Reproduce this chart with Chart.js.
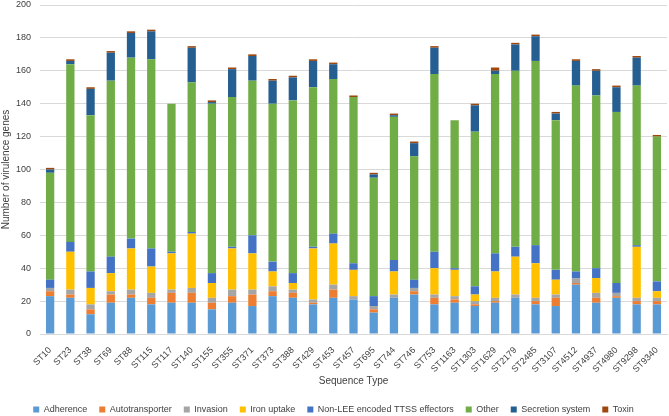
<!DOCTYPE html>
<html>
<head>
<meta charset="utf-8">
<script src="https://cdn.jsdelivr.net/npm/chart.js@4/dist/chart.umd.min.js"></script>
<style>
  html, body { margin: 0; padding: 0; background: #fff; }
  #wrap { width: 669px; height: 416px; }
</style>
</head>
<body>
<div id="wrap"><canvas id="virulence-chart"></canvas></div>
<script>
// Sequence types along the x axis
const sequenceTypes = ['ST10', 'ST23', 'ST38', 'ST69', 'ST88', 'ST115', 'ST117', 'ST140', 'ST155', 'ST355',
    'ST371', 'ST373', 'ST388', 'ST429', 'ST453', 'ST457', 'ST695', 'ST744', 'ST746', 'ST753',
    'ST1163', 'ST1303', 'ST1629', 'ST2179', 'ST2485', 'ST3107', 'ST4512', 'ST4937', 'ST4980', 'ST9298', 'ST9340'];

// Gene counts per category
const adherence       = [23, 22, 12, 19, 22, 18, 19, 19, 15, 19, 17, 23, 22, 18, 22, 21, 13, 22, 24, 18, 19, 17, 19, 22, 18, 17, 30, 19, 22, 18, 18];
const autotransporter = [3, 2, 3, 5, 2, 4, 6, 6, 4, 4, 7, 3, 3, 1, 5, 0, 2, 0, 2, 4, 2, 1, 1, 0, 2, 5, 1, 3, 1, 2, 2];
const invasion        = [2, 3, 3, 2, 3, 3, 2, 3, 3, 4, 3, 3, 2, 2, 3, 2, 2, 2, 2, 2, 2, 2, 2, 2, 2, 2, 3, 3, 2, 2, 2];
const ironUptake      = [0, 23, 10, 11, 25, 16, 22, 33, 9, 25, 22, 9, 4, 31, 25, 16, 0, 14, 0, 16, 16, 4, 16, 23, 21, 9, 0, 9, 0, 31, 4];
const nonLeeTtss      = [5, 6, 10, 10, 6, 11, 1, 1, 6, 1, 11, 6, 6, 1, 6, 4, 6, 7, 5, 10, 1, 5, 11, 6, 11, 6, 4, 6, 6, 1, 6];
const other           = [65, 108, 95, 107, 110, 115, 90, 91, 103, 91, 94, 96, 105, 97, 94, 101, 72, 87, 75, 108, 90, 94, 109, 107, 112, 91, 113, 105, 104, 97, 88];
const secretion       = [2, 2, 16, 17, 15, 17, 0, 21, 1, 17, 15, 14, 14, 16, 9, 0, 2, 1, 8, 16, 0, 16, 2, 16, 15, 4, 15, 15, 15, 17, 0];
const toxin           = [1, 1, 1, 1, 1, 1, 0, 1, 1, 1, 1, 1, 1, 1, 1, 1, 1, 1, 1, 1, 0, 1, 2, 1, 1, 1, 1, 1, 1, 1, 1];

const yTicks = [0, 20, 40, 60, 80, 100, 120, 140, 160, 180, 200];

const series = [
    ['Adherence', adherence, '#5B9BD5'],
    ['Autotransporter', autotransporter, '#ED7D31'],
    ['Invasion', invasion, '#A5A5A5'],
    ['Iron uptake', ironUptake, '#FFC000'],
    ['Non-LEE encoded TTSS effectors', nonLeeTtss, '#4472C4'],
    ['Other', other, '#70AD47'],
    ['Secretion system', secretion, '#255E91'],
    ['Toxin', toxin, '#9E480E']
];

Chart.defaults.font.family = '"Liberation Sans", Arial, sans-serif';
Chart.defaults.color = '#404040';

const ctx = document.getElementById('virulence-chart').getContext('2d');
const virulenceChart = new Chart(ctx, {
    type: 'bar',
    data: {
        labels: sequenceTypes,
        datasets: series.map(s => ({
            label: s[0],
            data: s[1],
            backgroundColor: s[2],
            borderWidth: 0,
            categoryPercentage: 0.41,
            barPercentage: 1
        }))
    },
    options: {
        responsive: true,
        maintainAspectRatio: false,
        animation: false,
        layout: { padding: { left: 0, right: 2, top: 0, bottom: -8 } },
        plugins: {
            legend: {
                position: 'bottom',
                labels: {
                    boxWidth: 6,
                    boxHeight: 6,
                    padding: 12,
                    font: { size: 9 }
                }
            },
            tooltip: { enabled: false }
        },
        scales: {
            x: {
                stacked: true,
                grid: { display: false },
                border: { color: '#D9D9D9' },
                ticks: { autoSkip: false, minRotation: 45, maxRotation: 45, font: { size: 9 }, padding: 3 },
                title: { display: true, text: 'Sequence Type', font: { size: 10 }, padding: { top: 4, bottom: 6 } },
                afterFit: axis => { axis.height = 59; }
            },
            y: {
                stacked: true,
                min: 0,
                max: 200,
                afterBuildTicks: axis => { axis.ticks = yTicks.map(v => ({ value: v })); },
                grid: { color: '#D9D9D9', drawTicks: false },
                border: { display: false },
                ticks: { font: { size: 9 }, padding: 9 },
                title: { display: true, text: 'Number of virulence genes', font: { size: 10 }, padding: { top: 0, bottom: 4 } },
                afterFit: axis => {
                    axis.width = 40;
                    axis.paddingTop = 5;
                    axis.paddingBottom = 5;
                }
            }
        }
    }
});
</script>
</body>
</html>
